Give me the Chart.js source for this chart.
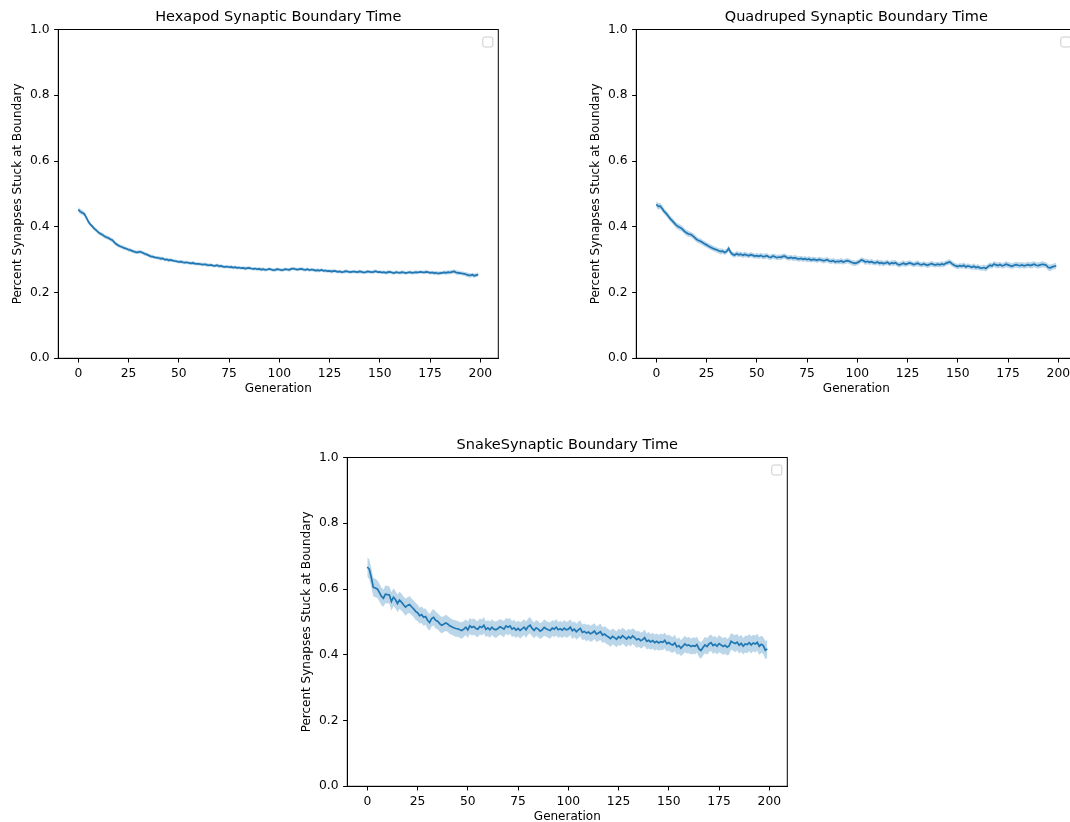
<!DOCTYPE html>
<html>
<head>
<meta charset="utf-8">
<script src="https://cdn.jsdelivr.net/npm/chart.js@4.4.1/dist/chart.umd.min.js"></script>
<style>
  html, body { margin: 0; padding: 0; background: #fff; overflow: hidden; }
  #wrap { position: relative; width: 1070px; height: 822px; overflow: hidden; background: #fff; }
  .box { position: absolute; width: 540px; height: 400px; }
  canvas { display: block; }
</style>
</head>
<body>
<div id="wrap">
  <div class="box" style="left:0px;top:0px;"><canvas id="c0" width="540" height="400"></canvas></div>
  <div class="box" style="left:578.4px;top:0px;"><canvas id="c1" width="540" height="400"></canvas></div>
  <div class="box" style="left:289px;top:428.2px;"><canvas id="c2" width="540" height="400"></canvas></div>
</div>
<script>
// ---------- DATA ----------
const chartTitles = [
  "Hexapod Synaptic Boundary Time",
  "Quadruped Synaptic Boundary Time",
  "SnakeSynaptic Boundary Time"
];
const xAxisLabel = "Generation";
const yAxisLabel = "Percent Synapses Stuck at Boundary";
const xTickValues = [0, 25, 50, 75, 100, 125, 150, 175, 200];
const yTickValues = [0.0, 0.2, 0.4, 0.6, 0.8, 1.0];
const generations = Array.from({length: 200}, (_, i) => i);

// mean values (thousandths)
const hexapodMean = [
  452,446,443,439,428,416,407,401,394,389,
  383,379,376,371,368,366,362,359,352,347,
  343,340,338,335,333,330,329,326,324,322,
  323,324,321,318,316,313,310,309,307,306,
  305,303,304,300,301,298,299,297,296,295,
  293,294,292,291,292,290,289,290,288,287,
  287,286,285,286,284,283,284,282,281,283,
  280,281,279,278,279,277,278,276,277,275,
  276,274,275,273,274,275,273,272,273,271,
  272,270,271,269,270,272,270,268,269,271,
  270,268,269,271,270,269,272,273,271,270,
  271,272,270,269,271,268,270,269,267,268,
  267,269,266,267,265,266,264,266,265,263,
  264,262,263,265,264,262,263,264,263,262,
  264,263,261,262,264,263,262,263,265,262,
  263,261,262,260,262,263,261,259,262,261,
  260,262,261,259,261,262,260,261,262,261,
  263,262,261,263,262,260,261,259,260,258,
  259,260,261,260,262,261,263,264,261,260,
  259,258,257,255,253,252,254,251,253,255
];
const quadrupedMean = [
  468,462,463,455,446,440,432,424,418,411,
  404,400,397,393,386,382,378,377,373,368,
  362,358,356,352,348,345,341,338,335,332,
  330,327,325,326,322,325,334,322,316,314,
  318,315,317,313,316,314,312,315,313,311,
  312,310,313,309,310,312,308,307,311,309,
  306,308,307,310,311,306,305,307,304,306,
  303,302,304,301,303,300,302,299,301,300,
  298,301,299,297,298,300,296,295,297,293,
  295,294,296,293,295,297,295,292,290,289,
  291,294,299,297,293,295,292,294,291,290,
  293,289,291,288,290,292,287,290,289,291,
  286,284,287,289,286,288,290,288,285,287,
  289,286,284,287,285,283,286,288,285,284,
  286,284,287,285,289,291,293,288,284,281,
  279,282,280,283,278,281,279,277,280,276,
  278,275,274,276,273,279,283,281,287,284,
  282,285,281,283,286,284,282,280,283,285,
  283,282,284,281,283,285,282,284,286,283,
  282,284,286,285,283,276,275,278,280,281
];
const snakeMean = [
  667,660,635,605,603,600,590,578,572,584,
  583,582,562,575,568,556,566,560,552,545,
  550,553,546,540,532,528,519,522,514,516,
  505,498,510,514,505,502,495,490,493,497,
  494,488,485,482,480,479,476,474,478,484,
  476,488,483,486,480,478,486,483,490,477,
  482,476,484,478,476,480,485,482,478,488,
  484,488,478,482,475,480,474,479,484,476,
  486,490,480,474,482,478,472,476,483,479,
  476,474,481,478,484,476,479,475,481,476,
  478,484,473,478,470,476,480,468,471,466,
  469,464,467,472,463,466,470,460,463,458,
  454,449,456,452,447,455,451,458,453,448,
  455,450,457,452,446,449,443,446,452,441,
  444,439,443,437,441,436,440,438,444,434,
  437,432,430,436,424,428,420,426,433,428,
  430,425,428,426,431,418,413,422,430,425,
  433,437,428,432,426,434,430,425,429,423,
  427,441,437,434,438,429,435,426,433,431,
  437,430,436,433,438,426,432,428,414,418
];

// confidence band half-widths (thousandths)
const hexapodBand = [
  8,8,7,7,7,7,6,6,6,6, 6,6,6,6,6,6,6,6,6,6,
  6,5,6,6,5,6,6,5,6,5, 6,5,5,6,5,5,6,5,5,5,
  5,6,5,5,5,6,5,5,5,5, 5,5,6,5,5,5,5,6,5,5,
  5,5,5,5,6,5,5,5,5,5, 6,5,5,5,5,5,6,5,5,5,
  5,5,5,6,5,5,5,5,5,5, 5,6,5,5,5,5,5,5,6,5,
  5,5,5,5,5,6,5,5,5,5, 5,5,6,5,5,5,5,5,5,6,
  5,5,5,5,5,5,6,5,5,5, 5,5,5,6,5,5,5,5,5,5,
  6,5,5,5,5,5,5,6,5,5, 5,5,5,5,6,5,5,5,5,5,
  5,6,5,5,5,5,5,5,6,5, 5,5,5,6,5,5,5,6,6,6,
  6,5,6,6,6,6,6,6,7,7, 6,6,6,7,7,7,6,7,6,6
];
const quadrupedBand = [
  10,10,9,9,9,9,9,9,9,9, 9,9,9,9,9,9,9,8,9,9,
  9,8,9,8,9,8,8,9,8,8, 8,8,9,8,8,8,9,8,8,8,
  8,8,8,8,9,8,8,8,8,8, 8,8,8,8,9,8,8,8,8,8,
  8,8,9,8,8,8,8,8,8,9, 8,8,8,8,8,8,9,8,8,8,
  8,8,8,9,8,8,8,8,8,8, 8,8,9,8,8,8,8,8,9,8,
  8,8,8,8,9,8,8,8,8,8, 8,9,8,8,8,8,8,8,9,8,
  8,8,8,9,8,8,8,8,8,8, 9,8,8,8,8,8,8,9,8,8,
  8,8,9,8,8,8,8,9,8,8, 8,8,8,9,8,8,8,8,9,8,
  9,8,8,9,9,8,9,8,9,9, 9,9,8,9,9,9,9,8,9,9,
  9,9,9,9,9,9,9,10,9,9, 9,9,10,9,9,10,10,9,9,9
];
const snakeBand = [
  30,30,29,28,28,27,27,27,26,27, 27,26,28,27,26,27,26,26,25,26,
  25,26,25,25,26,25,24,25,26,25, 26,25,24,25,26,24,25,25,24,25,
  24,25,24,24,25,24,24,25,24,24, 25,24,24,25,24,25,24,24,25,24,
  24,25,24,24,25,24,24,24,25,24, 25,24,24,25,24,24,25,24,24,25,
  24,25,24,24,24,25,24,24,25,24, 24,25,24,24,25,24,24,24,25,24,
  24,24,25,24,24,25,24,24,24,25, 24,24,25,24,24,24,25,24,24,25,
  24,25,24,24,24,25,24,24,25,24, 24,25,24,24,25,24,24,24,25,24,
  25,24,24,25,24,24,25,24,24,25, 24,25,24,25,24,25,24,25,25,24,
  25,24,25,25,24,25,25,24,25,25, 25,25,26,25,25,26,25,25,26,25,
  26,25,25,26,25,26,26,25,26,26, 26,26,25,26,26,27,26,26,27,28
];

const seriesMeans = [hexapodMean, quadrupedMean, snakeMean];
const seriesBands = [hexapodBand, quadrupedBand, snakeBand];

// ---------- STYLE ----------
const LINE_COLOR = '#1f77b4';
const BAND_COLOR = 'rgba(31,119,180,0.3)';
const FONT = 'DejaVu Sans';
const AXIS_LEFT = 58.3;     // y-axis box width inside each canvas
const AXIS_BOTTOM = 41.7;   // x-axis box height inside each canvas
const RIGHT_PAD = 41.7;

const framePlugin = {
  id: 'frame',
  afterDraw(chart) {
    const {ctx, chartArea: a} = chart;
    ctx.save();
    ctx.strokeStyle = '#000';
    ctx.lineWidth = 1;
    ctx.strokeRect(a.left, a.top, a.right - a.left, a.bottom - a.top);
    // empty legend frame (matplotlib empty legend)
    const w = 10, h = 10, r = 2;
    const x = a.right - 5.5 - w, y = a.top + 7.5;
    ctx.beginPath();
    ctx.moveTo(x + r, y);
    ctx.arcTo(x + w, y, x + w, y + h, r);
    ctx.arcTo(x + w, y + h, x, y + h, r);
    ctx.arcTo(x, y + h, x, y, r);
    ctx.arcTo(x, y, x + w, y, r);
    ctx.closePath();
    ctx.fillStyle = 'rgba(255,255,255,0.8)';
    ctx.fill();
    ctx.strokeStyle = '#cccccc';
    ctx.lineWidth = 1;
    ctx.stroke();
    ctx.restore();
  }
};

function makeChart(canvasId, idx) {
  const means = seriesMeans[idx];
  const bands = seriesBands[idx];
  const meanPts = generations.map((g, i) => ({x: g, y: means[i] / 1000}));
  const upperPts = generations.map((g, i) => ({x: g, y: (means[i] + bands[i]) / 1000}));
  const lowerPts = generations.map((g, i) => ({x: g, y: (means[i] - bands[i]) / 1000}));

  return new Chart(document.getElementById(canvasId), {
    type: 'line',
    data: {
      datasets: [
        { data: meanPts, borderColor: LINE_COLOR, borderWidth: 1.7, pointRadius: 0, fill: false, tension: 0 },
        { data: upperPts, borderColor: 'rgba(0,0,0,0)', borderWidth: 0, pointRadius: 0, fill: false, tension: 0 },
        { data: lowerPts, borderColor: 'rgba(0,0,0,0)', borderWidth: 0, pointRadius: 0, fill: '-1', backgroundColor: BAND_COLOR, tension: 0 }
      ]
    },
    options: {
      responsive: false,
      animation: false,
      devicePixelRatio: 1,
      layout: { padding: { left: 0, right: RIGHT_PAD, top: 0, bottom: 0 } },
      plugins: {
        legend: { display: false },
        tooltip: { enabled: false },
        title: {
          display: true,
          text: chartTitles[idx],
          fullSize: false,
          color: '#000',
          font: { family: FONT, size: 14.5, weight: 'normal', lineHeight: 1.2 },
          padding: { top: 9, bottom: 3.1 }
        }
      },
      scales: {
        x: {
          type: 'linear',
          min: -9.95,
          max: 208.95,
          afterBuildTicks: (s) => { s.ticks = xTickValues.map(v => ({value: v})); },
          afterFit: (s) => { s.height = AXIS_BOTTOM; },
          grid: { display: true, drawOnChartArea: false, drawTicks: true, tickLength: 4.2, tickColor: '#000', tickWidth: 1 },
          border: { display: true, color: '#000', width: 1 },
          ticks: { color: '#000', font: { family: FONT, size: 12.3 }, padding: 3.5, maxRotation: 0, autoSkip: false,
                   callback: (v) => String(v) },
          title: { display: true, text: xAxisLabel, color: '#000', font: { family: FONT, size: 12, lineHeight: 1.2 },
                   padding: { top: 0, bottom: 3.8 } }
        },
        y: {
          type: 'linear',
          min: 0,
          max: 1,
          afterBuildTicks: (s) => { s.ticks = yTickValues.map(v => ({value: v})); },
          afterFit: (s) => { s.width = AXIS_LEFT; },
          grid: { display: true, drawOnChartArea: false, drawTicks: true, tickLength: 4.2, tickColor: '#000', tickWidth: 1 },
          border: { display: true, color: '#000', width: 1 },
          ticks: { color: '#000', font: { family: FONT, size: 12.3 }, padding: 4.5, autoSkip: false,
                   callback: (v) => Number(v).toFixed(1) },
          title: { display: true, text: yAxisLabel, color: '#000', font: { family: FONT, size: 12, lineHeight: 1.2 },
                   padding: { top: 11.1, bottom: 0 } }
        }
      }
    },
    plugins: [framePlugin]
  });
}

makeChart('c0', 0);
makeChart('c1', 1);
makeChart('c2', 2);
</script>
</body>
</html>
